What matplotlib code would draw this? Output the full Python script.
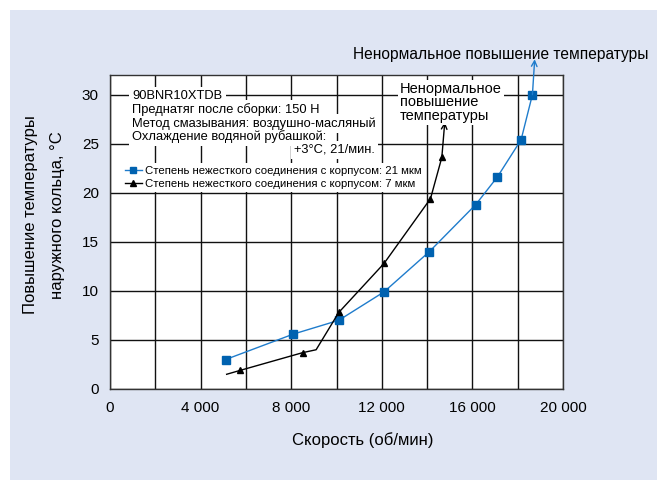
import matplotlib.pyplot as plt
import matplotlib.patches as mpatches
from matplotlib.lines import Line2D

# --- data ---
speed_21 = [5100, 8100, 10100, 12100, 14100, 16150, 17100, 18150, 18650]
temp_21 = [3.0, 5.6, 7.0, 9.9, 14.0, 18.8, 21.6, 25.4, 30.0]
speed_7 = [5150, 5750, 8500, 9100, 10100, 12100, 14150, 14650]
temp_7 = [1.5, 1.9, 3.7, 4.0, 7.8, 12.8, 19.4, 23.6]
marked_7 = [1, 2, 4, 5, 6, 7]  # points with a triangle marker

arrow_21 = (18750, 33.6)  # tip of the blue arrow (outside the axes)
arrow_7 = (14780, 27.2)

x_ticks = [0, 4000, 8000, 12000, 16000, 20000]
x_labels = ['0', '4 000', '8 000', '12 000', '16 000', '20 000']
y_ticks = [0, 5, 10, 15, 20, 25, 30]

info_lines = ['90BNR10XTDB',
              'Преднатяг после сборки: 150 Н',
              'Метод смазывания: воздушно-масляный',
              'Охлаждение водяной рубашкой:',
              '+3°C, 21/мин.']
label_21 = 'Степень нежесткого соединения с корпусом: 21 мкм'
label_7 = 'Степень нежесткого соединения с корпусом: 7 мкм'
abnormal = 'Ненормальное повышение температуры'

blue_line = '#1f7ccc'
blue_mark = '#0062b0'
bg = '#dfe5f3'

plt.rcParams['font.family'] = ['Liberation Sans', 'DejaVu Sans']

fig = plt.figure(figsize=(6.57, 4.8), dpi=100)
fig.patches.append(mpatches.Rectangle((10 / 657, 0), 1, 1 - 10 / 480, transform=fig.transFigure,
                                      facecolor=bg, edgecolor='none', zorder=-10))
ax = fig.add_axes([110 / 657, 1 - 389 / 480, 453 / 657, 314 / 480])
ax.set_facecolor('white')

ax.set_xlim(0, 20000)
ax.set_ylim(0, 32)
ax.set_xticks(x_ticks)
ax.set_xticklabels(x_labels)
ax.set_xticks(range(0, 20001, 2000), minor=True)
ax.set_yticks(y_ticks)
ax.tick_params(which='both', length=0, labelsize=11)
ax.tick_params(axis='x', pad=9)
ax.tick_params(axis='y', pad=8)
ax.grid(True, which='both', color='#111111', linewidth=1.0, zorder=0)
ax.set_axisbelow(True)
for s in ax.spines.values():
    s.set_linewidth(1.0)
    s.set_color('#333333')

# series
ax.plot(speed_21, temp_21, color=blue_line, lw=1.0, marker='s', ms=5.5,
        mfc=blue_mark, mec=blue_mark, zorder=4)
ax.plot(speed_7, temp_7, color='black', lw=1.0, marker='^', ms=4.5,
        markevery=marked_7, zorder=4)

ax.annotate('', xy=arrow_21, xytext=(speed_21[-1], temp_21[-1]),
            arrowprops=dict(arrowstyle='->', color=blue_line, lw=1.0, shrinkA=0, shrinkB=0),
            annotation_clip=False, zorder=5)
ax.annotate('', xy=arrow_7, xytext=(speed_7[-1], temp_7[-1]),
            arrowprops=dict(arrowstyle='->', color='black', lw=1.0, shrinkA=0, shrinkB=0),
            annotation_clip=False, zorder=5)

# text annotations
fig.text(353 / 657, 1 - 54 / 480, abnormal, fontsize=11.2, va='center', ha='left')
fig.text(400 / 657, 1 - 82 / 480, 'Ненормальное\nповышение\nтемпературы', fontsize=10.5,
         va='top', ha='left', linespacing=0.95,
         bbox=dict(facecolor='white', edgecolor='none', pad=1.5), zorder=3)

# info block: white patches first, text on top
white = dict(facecolor='white', edgecolor='none', pad=2.5)
baselines = [99, 113, 127, 140, 153]
for layer in (0, 1):
    for i, line in enumerate(info_lines):
        last = i == len(info_lines) - 1
        kw = dict(fontsize=9.3, va='baseline', ha='right' if last else 'left')
        if layer == 0:
            kw.update(color='white', bbox=white, zorder=2)
        else:
            kw.update(color='black', zorder=3)
        fig.text((375 if last else 132) / 657, 1 - baselines[i] / 480, line, **kw)

handles = [Line2D([], [], color=blue_line, lw=1.0, marker='s', ms=4, mfc=blue_mark, mec=blue_mark),
           Line2D([], [], color='black', lw=1.0, marker='^', ms=4)]
leg = ax.legend(handles, [label_21, label_7], loc='upper left',
                bbox_to_anchor=((122 - 110) / 453, (389 - 163) / 314),
                prop={'size': 8.2},
                handlelength=1.5, handletextpad=0.3, labelspacing=0.3, borderpad=0.25,
                borderaxespad=0, frameon=True, fancybox=False)
leg.get_frame().set_facecolor('white')
leg.get_frame().set_edgecolor('none')
leg.get_frame().set_alpha(1)
leg.set_zorder(3)

fig.text(363 / 657, 1 - 440 / 480, 'Скорость (об/мин)', fontsize=12, ha='center', va='center')
fig.text(44 / 657, 1 - 215 / 480, 'Повышение температуры\nнаружного кольца, °C', fontsize=12,
         rotation=90, ha='center', va='center', linespacing=2.0)

fig.savefig('out.png', dpi=100, facecolor='white')
